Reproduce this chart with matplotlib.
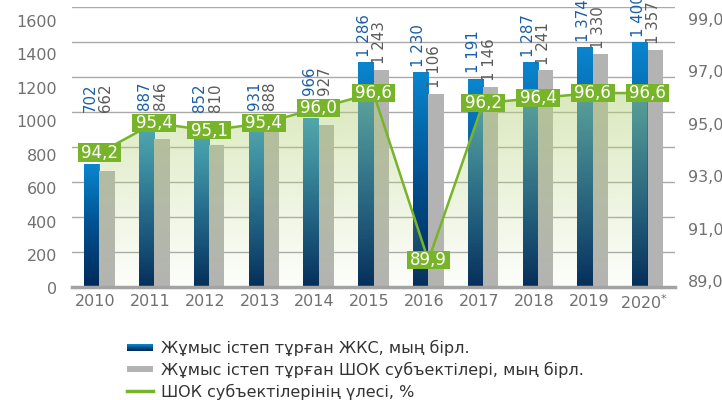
import numpy as np
import matplotlib
matplotlib.use('Agg')
import matplotlib.pyplot as plt
from matplotlib.patches import Rectangle
from matplotlib.path import Path
from matplotlib.colors import LinearSegmentedColormap, to_rgb
from matplotlib.legend_handler import HandlerBase
from matplotlib.lines import Line2D
from matplotlib.transforms import Affine2D

plt.rcParams['font.family'] = ['DejaVu Sans']

# ---- data ----
years = ['2010', '2011', '2012', '2013', '2014', '2015', '2016', '2017', '2018', '2019', '2020$^{*}$']
jks = [702, 887, 852, 931, 966, 1286, 1230, 1191, 1287, 1374, 1400]
shok = [662, 846, 810, 888, 927, 1243, 1106, 1146, 1241, 1330, 1357]
share = [94.2, 95.4, 95.1, 95.4, 96.0, 96.6, 89.9, 96.2, 96.4, 96.6, 96.6]
left_ticks = [0, 200, 400, 600, 800, 1000, 1200, 1400, 1600]
right_ticks = [89, 91, 93, 95, 97, 99]
legend_labels = ['Жұмыс істеп тұрған ЖКС, мың бірл.',
                 'Жұмыс істеп тұрған ШОК субъектілері, мың бірл.',
                 'ШОК субъектілерінің үлесі, %']

# ---- styles ----
BLUE_TOP = '#0a86cf'
BLUE_BOT = '#002a5a'
GRAY = '#b3b3b3'
GREEN = '#78b42a'
AREA = '#b5d27a'
TICK_C = '#707070'
blue_cmap = LinearSegmentedColormap.from_list('b', [BLUE_BOT, '#00508f', BLUE_TOP])

fig = plt.figure(figsize=(7.22, 4.0), dpi=100)
ax = fig.add_axes([72/722, 1-286.7/400, (675-72)/722, (286.7-7.3)/400])

x = np.arange(len(years))
w = 0.28
LMIN, LMAX = 0, 1600
RMIN, RMAX = 88.85, 100.03

# blue gradient bars
bars_b = ax.bar(x - w/2, jks, w, color='none', edgecolor='none', zorder=2)
grad = np.linspace(0, 1, 256).reshape(-1, 1)
for b in bars_b:
    ax.imshow(grad, extent=[b.get_x(), b.get_x()+b.get_width(), 0, b.get_height()],
              cmap=blue_cmap, aspect='auto', origin='lower', zorder=2, interpolation='bilinear')
bars_g = ax.bar(x + w/2, shok, w, color=GRAY, edgecolor='none', zorder=2)

ax.set_xlim(-0.5, len(years) - 0.5)
ax.set_ylim(LMIN, LMAX)
ax.set_yticks(left_ticks)
ax.set_yticklabels([])
ax.set_xticks(x)
ax.set_xticklabels(years)
ax.yaxis.grid(True, color='#a9a9a9', lw=1.0, zorder=0)
ax.set_axisbelow(True)
for s in ['top', 'left', 'right']:
    ax.spines[s].set_visible(False)
ax.spines['bottom'].set_color('#a3a3a3')
ax.spines['bottom'].set_linewidth(2.5)
ax.spines['bottom'].set_zorder(10)
ax.tick_params(axis='both', length=0, labelsize=11.5, labelcolor=TICK_C)
ax.tick_params(axis='x', pad=5)
for lbl in ax.get_xticklabels():
    lbl.set_transform(lbl.get_transform() + Affine2D().translate(-4, 0))

# left tick labels (the reference spaces them slightly tighter than the grid)
for v in left_ticks:
    ax.annotate(str(v), xy=(0, v), xycoords=ax.get_yaxis_transform(),
                xytext=(-15, -(3.3 + v / LMAX * 11.4)), textcoords='offset pixels',
                ha='right', va='center', fontsize=11.5, color=TICK_C)

# right axis
ax2 = ax.twinx()
ax2.set_ylim(RMIN, RMAX)
ax2.set_yticks(right_ticks)
ax2.set_yticklabels([])
ax2.tick_params(axis='y', length=0)
for s in ax2.spines.values():
    s.set_visible(False)
for v in right_ticks:
    ax2.annotate(f'{v:.1f}'.replace('.', ','), xy=(1, v), xycoords=ax2.get_yaxis_transform(),
                 xytext=(13, (v - right_ticks[0]) * 1.3), textcoords='offset pixels',
                 ha='left', va='center', fontsize=11.5, color=TICK_C, annotation_clip=False)

# gradient area under line
poly = ax2.fill_between(x, share, RMIN, facecolor='none', edgecolor='none', zorder=1)
rgb = to_rgb(AREA)
n = 256
img = np.zeros((n, 1, 4))
img[:, 0, 0], img[:, 0, 1], img[:, 0, 2] = rgb
img[:, 0, 3] = np.linspace(0.03, 0.70, n)
im = ax2.imshow(img, extent=[x[0], x[-1], RMIN, RMAX], aspect='auto', origin='lower',
                zorder=1, interpolation='bilinear')
im.set_clip_path(poly.get_paths()[0], transform=ax2.transData)
ax2.set_xlim(-0.5, len(years) - 0.5)
ax2.set_ylim(RMIN, RMAX)

ax2.plot(x, share, color=GREEN, lw=1.8, zorder=4, solid_joinstyle='miter')


def tight_box(x0, y0, width, height, mutation_size):
    padx = 0.2 * mutation_size
    cy = y0 + height / 2 + 0.02 * mutation_size
    hh = 0.55 * mutation_size
    xs = [x0 - padx, x0 + width + padx, x0 + width + padx, x0 - padx, x0 - padx]
    ys = [cy - hh, cy - hh, cy + hh, cy + hh, cy - hh]
    return Path(np.column_stack([xs, ys]), closed=True)


for xi, v in zip(x, share):
    ax2.text(xi, v, f'{v:.1f}'.replace('.', ','), ha='center', va='center', color='white',
             fontsize=12, zorder=6,
             bbox=dict(boxstyle=tight_box, fc=GREEN, ec='none'))

# bar value labels (rotated), placed above bar and clear of line label
def to_left(p):
    return (p - RMIN) / (RMAX - RMIN) * (LMAX - LMIN) + LMIN

def to_right(v):
    return (v - LMIN) / (LMAX - LMIN) * (RMAX - RMIN) + RMIN

def fmt(v):
    return f'{v:,}'.replace(',', ' ')

for xi, vb, vg, p in zip(x, jks, shok, share):
    floor = max(to_left(p) + 75, 1000)
    for dx, v, c in ((-w/2, vb, '#1b5ea6'), (w/2, vg, '#5a5a5a')):
        ypos = max(v + 30, floor)
        ax2.text(xi + dx - 0.03, to_right(ypos), fmt(v),
                 rotation=90, ha='center', va='bottom', fontsize=10.8, color=c, zorder=7,
                 clip_on=False)

# legend
class GradHandler(HandlerBase):
    def __init__(self, colors):
        super().__init__()
        self.colors = colors
    def create_artists(self, legend, orig, xd, yd, width, height, fontsize, trans):
        arts = []
        k = len(self.colors)
        h = height * 0.55
        y0 = -yd + (height - h) / 2
        for i, c in enumerate(self.colors):
            r = Rectangle((-xd, y0 + h * i / k), width, h / k + 0.05, facecolor=c,
                          edgecolor='none', transform=trans)
            arts.append(r)
        return arts

blue_cols = [blue_cmap(t) for t in np.linspace(0.05, 0.95, 10)]
h_blue = Rectangle((0, 0), 1, 1)
h_gray = Rectangle((0, 0), 1, 1)
h_line = Line2D([], [], color=GREEN, lw=2.5)
fig.legend([h_blue, h_gray, h_line], legend_labels,
           handler_map={h_blue: GradHandler(blue_cols), h_gray: GradHandler([GRAY])},
           loc='upper left', bbox_to_anchor=(127/722, 1 - 340/400), frameon=False,
           fontsize=11.5, labelcolor='#333333', handlelength=1.6, handleheight=0.7,
           handletextpad=0.55, labelspacing=0.35, borderpad=0, borderaxespad=0)

fig.savefig('out.png', dpi=100)
